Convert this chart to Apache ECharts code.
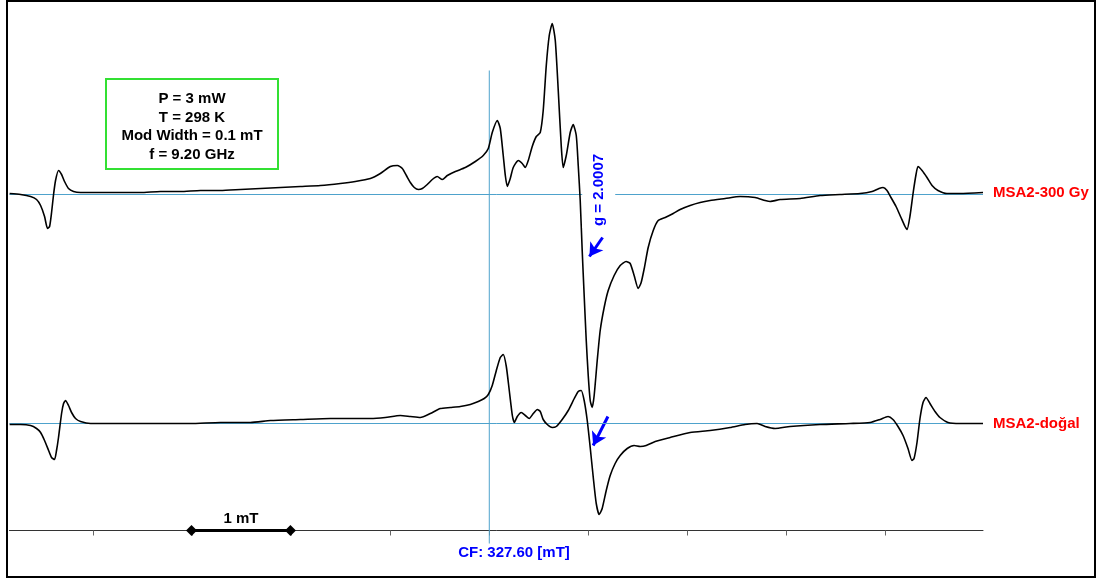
<!DOCTYPE html>
<html><head><meta charset="utf-8">
<script src="https://cdn.jsdelivr.net/npm/echarts@6/dist/echarts.min.js"></script>
<style>html,body{margin:0;padding:0;background:#fff}#c{width:1103px;height:581px}</style>
</head><body><div id="c"></div>
<script>
// Magnetic field (mT) and EPR amplitude (a.u., relative to each trace's baseline)
const seriesNames = ['MSA2-300 Gy', 'MSA2-doğal'];
const fieldTop = [322.752,322.863,322.964,323.024,323.065,323.105,323.135,323.156,323.176,323.196,
323.216,323.246,323.277,323.307,323.347,323.398,323.469,323.671,323.873,324.075,
324.277,324.479,324.681,324.883,325.085,325.287,325.489,325.691,325.893,326.095,
326.246,326.398,326.499,326.600,326.671,326.721,326.762,326.802,326.842,326.883,
326.923,326.973,327.024,327.074,327.125,327.176,327.257,327.358,327.459,327.539,
327.590,327.630,327.681,327.711,327.741,327.762,327.782,327.812,327.842,327.893,
327.933,327.964,327.994,328.034,328.075,328.115,328.145,328.176,328.206,328.236,
328.267,328.297,328.327,328.347,328.378,328.418,328.448,328.479,328.499,328.519,
328.539,328.559,328.580,328.600,328.620,328.640,328.660,328.691,328.721,328.761,
328.802,328.862,328.923,328.983,329.024,329.064,329.105,329.135,329.166,329.206,
329.257,329.307,329.378,329.459,329.529,329.630,329.731,329.832,329.984,330.135,
330.287,330.388,330.439,330.540,330.742,330.943,331.145,331.347,331.469,331.539,
331.580,331.620,331.660,331.711,331.761,331.802,331.822,331.853,331.883,331.913,
331.933,331.974,332.024,332.075,332.135,332.226,332.358,332.590];
const ampTop = [1,0,-2,-5,-11,-22,-34,-32,-18,0,
14,24,20,13,6,3,2,2,2,2,
3,3,4,4,5,6,7,8,9,11,
13,16,21,28,29,26,19,12,7,5,
6,10,15,18,15,19,23,27,33,39,
46,62,74,66,39,19,8,16,27,34,
31,27,34,48,58,62,84,129,159,171,
154,104,49,27,39,62,70,59,29,-6,
-56,-101,-146,-181,-206,-213,-201,-166,-136,-113,
-96,-81,-71,-67,-69,-81,-94,-88,-74,-53,
-36,-26,-23,-19,-15,-11,-8,-6,-4,-2,
-3,-6,-7,-5,-4,-1,0,1,3,6,
7,4,-3,-12,-23,-32,-35,-21,1,20,
28,24,17,9,4,1,1,2];
const fieldBottom = [322.752,322.863,322.964,323.024,323.065,323.105,323.146,323.176,323.206,323.226,
323.246,323.277,323.297,323.317,323.347,323.378,323.418,323.469,323.570,323.873,
324.176,324.580,324.883,325.186,325.388,325.691,325.994,326.196,326.398,326.549,
326.701,326.802,326.903,327.004,327.105,327.206,327.307,327.408,327.489,327.549,
327.590,327.630,327.671,327.711,327.741,327.772,327.802,327.833,327.853,327.883,
327.923,327.964,328.004,328.045,328.085,328.115,328.145,328.186,328.236,328.277,
328.337,328.398,328.459,328.499,328.529,328.559,328.590,328.620,328.651,328.681,
328.711,328.741,328.782,328.822,328.872,328.923,328.994,329.064,329.125,329.186,
329.277,329.428,329.630,329.832,330.034,330.185,330.307,330.388,330.489,330.640,
330.943,331.246,331.449,331.549,331.630,331.680,331.731,331.782,331.832,331.872,
331.893,331.923,331.953,331.984,332.014,332.054,332.105,332.155,332.236,332.358,
332.590];
const ampBottom = [-1,-1,-2,-5,-9,-17,-27,-34,-36,-27,
-14,10,20,23,18,11,5,2,0,0,
0,0,1,1,3,4,5,5,5,6,
8,7,6,10,15,16,17,19,22,25,
29,38,53,66,69,57,33,8,1,7,
11,8,5,10,14,12,4,-1,-4,-3,
4,13,25,32,33,23,3,-24,-54,-80,
-91,-85,-67,-52,-40,-32,-25,-22,-23,-22,
-18,-14,-9,-7,-4,-1,0,-3,-5,-3,
-1,0,1,4,7,4,-3,-12,-25,-37,
-35,-19,5,21,26,20,12,6,1,0,
0];
const tickFields = [323.6,324.6,325.6,326.6,327.6,328.6,329.6,330.6,331.6];
const centerField = 327.6;
const gValue = '2.0007';
const paramLines = ['P = 3 mW', 'T = 298 K', 'Mod Width = 0.1 mT', 'f = 9.20 GHz'];
const traceOffsets = [349, 120];   // vertical stacking of the two spectra (a.u.)
const scaleBar = [324.59, 325.59]; // 1 mT

const FONT = '"Liberation Sans", Arial, sans-serif';
const BLUE = '#0000ff', REF = '#4ea2cc';
const XMIN = 322.75, XMAX = 332.59;
const topData = fieldTop.map((f, i) => [f, ampTop[i] + traceOffsets[0]]);
const botData = fieldBottom.map((f, i) => [f, ampBottom[i] + traceOffsets[1]]);

function refSeries(name, data) {
  return {name: name, type: 'line', data: data, showSymbol: false, silent: true, z: 1,
          color: REF, lineStyle: {color: REF, width: 1, type: 'solid'}, emphasis: {disabled: true}};
}

const chart = echarts.init(document.getElementById('c'), null, {renderer: 'canvas'});
const endLabel = {show: true, formatter: '{a}', color: '#ff0000', fontWeight: 'bold', fontSize: 15, fontFamily: FONT, distance: 10};
chart.setOption({
  animation: false,
  backgroundColor: '#fff',
  grid: {left: 9.43, right: 120, top: 10.5, bottom: 37.5},
  xAxis: {
    type: 'value', min: XMIN, max: XMAX, offset: -13,
    axisLine: {show: true, lineStyle: {color: '#333', width: 1}},
    axisTick: {show: true, customValues: tickFields, length: 5, lineStyle: {color: '#666'}},
    axisLabel: {show: false}, splitLine: {show: false}
  },
  yAxis: {type: 'value', min: 0, max: 533, show: false, splitLine: {show: false}},
  series: [
    refSeries('baseline-top', [[XMIN, traceOffsets[0]], [XMAX, traceOffsets[0]]]),
    refSeries('baseline-bottom', [[XMIN, traceOffsets[1]], [XMAX, traceOffsets[1]]]),
    refSeries('center-field', [[centerField, 473], [centerField, 0]]),
    {
      name: seriesNames[0], type: 'line', data: topData, showSymbol: false, smooth: 0.2, z: 3,
      color: '#000',
      lineStyle: {color: '#000', width: 1.6}, endLabel: endLabel,
      markPoint: {
        symbol: 'rect', symbolSize: 0, silent: true,
        data: [{coord: [328.706, 353.5], label: {
          show: true, position: 'inside', rotate: 90, formatter: 'g = ' + gValue,
          color: BLUE, fontWeight: 'bold', fontSize: 15, fontFamily: FONT,
          backgroundColor: '#fff', padding: [9, 2]
        }}]
      },
      markLine: {
        silent: true, symbol: ['none', 'arrow'], symbolSize: [12, 13], z: 1,
        label: {show: false},
        lineStyle: {color: BLUE, width: 3, type: 'solid'},
        data: [
          [{coord: [328.745, 306]}, {coord: [328.612, 287]}],
          [{coord: [328.799, 127]}, {coord: [328.650, 98]}]
        ]
      }
    },
    {
      name: seriesNames[1], type: 'line', data: botData, showSymbol: false, smooth: 0.2, z: 3,
      color: '#000',
      lineStyle: {color: '#000', width: 1.6}, endLabel: endLabel,
      markLine: {
        silent: true, symbol: ['diamond', 'diamond'], symbolSize: 11, z: 1,
        lineStyle: {color: '#000', width: 3, type: 'solid'},
        label: {show: true, position: 'middle', formatter: '1 mT', color: '#000', fontWeight: 'bold', fontSize: 15, fontFamily: FONT, distance: 4},
        data: [[{coord: [scaleBar[0], 13]}, {coord: [scaleBar[1], 13]}]]
      }
    }
  ],
  graphic: [
    {type: 'rect', shape: {x: 106, y: 79, width: 172, height: 90}, style: {fill: '#fff', stroke: '#33e033', lineWidth: 2}, z: 10},
    {type: 'text', x: 192, y: 127, z: 11, style: {text: paramLines.join('\n'), textAlign: 'center', textVerticalAlign: 'middle', fill: '#000', font: 'bold 15px ' + FONT, lineHeight: 18.7}},
    {type: 'text', x: 514, y: 553, z: 11, style: {text: 'CF: ' + centerField.toFixed(2) + ' [mT]', textAlign: 'center', textVerticalAlign: 'middle', fill: BLUE, font: 'bold 15px ' + FONT}},
    {type: 'rect', shape: {x: 7, y: 1, width: 1088, height: 576}, style: {fill: 'none', stroke: '#000', lineWidth: 2}, z: 20}
  ]
});
</script></body></html>
